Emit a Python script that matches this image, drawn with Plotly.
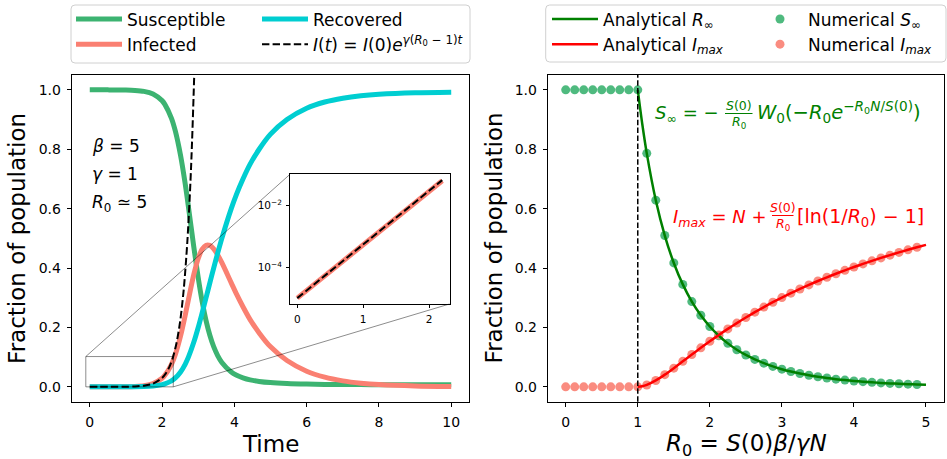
import plotly.graph_objects as go

W, H = 947, 459
FONT = "DejaVu Sans"


def px(x):
    return x / W


def py(y):
    return 1 - y / H


# ---------------- data ----------------
time = [0.0, 0.5, 1.0, 1.25, 1.5, 1.75, 2.0, 2.077, 2.258, 2.368, 2.512, 2.635, 2.729, 2.877,
        3.0, 3.111, 3.217, 3.322, 3.428, 3.538, 3.654, 3.914, 4.064, 4.238, 4.436, 4.686, 4.995,
        5.456, 6.0, 6.5, 7.0, 7.5, 8.0, 9.0, 10.0]
susceptible = [0.99999, 0.99992, 0.99932, 0.99815, 0.99496, 0.9863, 0.9637, 0.9512, 0.9048, 0.8607,
               0.7788, 0.6873, 0.6065, 0.4724, 0.3679, 0.2865, 0.2231, 0.1738, 0.1353, 0.1054, 0.0821,
               0.0498, 0.0388, 0.0302, 0.0235, 0.0183, 0.0143, 0.0111, 0.0092, 0.0083, 0.0078, 0.0075,
               0.0073, 0.0071, 0.0070]
infected = [0.00001, 0.00007, 0.00055, 0.00148, 0.00403, 0.01094, 0.0289, 0.0388, 0.0752, 0.1093,
            0.1712, 0.2377, 0.2935, 0.3776, 0.4321, 0.4635, 0.4769, 0.4762, 0.4647, 0.4446, 0.4179,
            0.3502, 0.3112, 0.2698, 0.2265, 0.1817, 0.1357, 0.0889, 0.0528, 0.0327, 0.0202, 0.0125,
            0.0077, 0.0029, 0.0011]
recovered = [0.0, 0.00002, 0.00013, 0.00037, 0.00101, 0.00276, 0.0074, 0.0100, 0.0200, 0.0300,
             0.0500, 0.0750, 0.1000, 0.1500, 0.2000, 0.2500, 0.3000, 0.3500, 0.4000, 0.4500, 0.5000,
             0.6000, 0.6500, 0.7000, 0.7500, 0.8000, 0.8500, 0.9000, 0.9380, 0.9590, 0.9720, 0.9801,
             0.9850, 0.9900, 0.9919]

time_exp = [0.0, 0.25, 0.5, 0.75, 1.0, 1.25, 1.5, 1.75, 2.0, 2.1, 2.2, 2.3, 2.4, 2.5, 2.6, 2.7,
            2.8, 2.9, 3.0]
infected_exp = [1.0e-5, 2.718e-5, 7.389e-5, 2.009e-4, 5.460e-4, 1.484e-3, 4.034e-3, 1.097e-2,
                2.981e-2, 4.447e-2, 6.634e-2, 9.897e-2, 0.1477, 0.2203, 0.3286, 0.4903, 0.7314,
                1.0913, 1.6275]

time_inset = [0.0, 0.25, 0.5, 0.75, 1.0, 1.25, 1.5, 1.75, 2.0, 2.2]
infected_inset = [1.0e-5, 2.718e-5, 7.389e-5, 2.008e-4, 5.458e-4, 1.482e-3, 4.025e-3, 1.091e-2,
                  2.91e-2, 6.31e-2]
infected_exp_inset = [1.0e-5, 2.718e-5, 7.389e-5, 2.009e-4, 5.460e-4, 1.484e-3, 4.034e-3,
                      1.097e-2, 2.981e-2, 6.634e-2]

r0_numerical = [0.0, 0.125, 0.25, 0.375, 0.5, 0.625, 0.75, 0.875, 1.0, 1.125, 1.25, 1.375, 1.5,
                1.625, 1.75, 1.875, 2.0, 2.125, 2.25, 2.375, 2.5, 2.625, 2.75, 2.875, 3.0, 3.125,
                3.25, 3.375, 3.5, 3.625, 3.75, 3.875, 4.0, 4.125, 4.25, 4.375, 4.5, 4.625, 4.75,
                4.875]
s_inf_numerical = [1.0, 1.0, 1.0, 1.0, 1.0, 1.0, 1.0, 1.0, 1.0, 0.7862, 0.6286, 0.5095, 0.4172,
                   0.3450, 0.2871, 0.2410, 0.2032, 0.1721, 0.1464, 0.1251, 0.1074, 0.0924, 0.0797,
                   0.0688, 0.0595, 0.0516, 0.0448, 0.0390, 0.0340, 0.0297, 0.0259, 0.0227, 0.0198,
                   0.0174, 0.0152, 0.0133, 0.0117, 0.0103, 0.0090, 0.0079]
i_max_numerical = [0.0, 0.0, 0.0, 0.0, 0.0, 0.0, 0.0, 0.0, 0.0, 0.0064, 0.0215, 0.0411, 0.0630,
                   0.0858, 0.1088, 0.1314, 0.1534, 0.1747, 0.1951, 0.2147, 0.2335, 0.2514, 0.2685,
                   0.2849, 0.3005, 0.3154, 0.3296, 0.3433, 0.3564, 0.3689, 0.3809, 0.3924, 0.4034,
                   0.4140, 0.4243, 0.4341, 0.4435, 0.4527, 0.4614, 0.4699]

r0_analytical = [1.0, 1.0625, 1.125, 1.25, 1.375, 1.5, 1.625, 1.75, 1.875, 2.0, 2.125, 2.25, 2.375,
                 2.5, 2.625, 2.75, 2.875, 3.0, 3.125, 3.25, 3.375, 3.5, 3.625, 3.75, 3.875, 4.0,
                 4.125, 4.25, 4.375, 4.5, 4.625, 4.75, 4.875, 5.0]
s_inf_analytical = [1.0, 0.885, 0.7862, 0.6286, 0.5095, 0.4172, 0.3450, 0.2871, 0.2410, 0.2032,
                    0.1721, 0.1464, 0.1251, 0.1074, 0.0924, 0.0797, 0.0688, 0.0595, 0.0516, 0.0448,
                    0.0390, 0.0340, 0.0297, 0.0259, 0.0227, 0.0198, 0.0174, 0.0152, 0.0133, 0.0117,
                    0.0103, 0.0090, 0.0079, 0.0070]
i_max_analytical = [0.0, 0.0018, 0.0064, 0.0215, 0.0411, 0.0630, 0.0858, 0.1088, 0.1314, 0.1534,
                    0.1747, 0.1951, 0.2147, 0.2335, 0.2514, 0.2685, 0.2849, 0.3005, 0.3154, 0.3296,
                    0.3433, 0.3564, 0.3689, 0.3809, 0.3924, 0.4034, 0.4140, 0.4243, 0.4341, 0.4435,
                    0.4527, 0.4614, 0.4699, 0.4781]

left_ticks = [0, 2, 4, 6, 8, 10]
right_ticks = [0, 1, 2, 3, 4, 5]
y_ticks = [0.0, 0.2, 0.4, 0.6, 0.8, 1.0]
inset_xticks = [0, 1, 2]
inset_yticks = [1e-4, 1e-2]
inset_yticklabels = ["10<sup>−4</sup>", "10<sup>−2</sup>"]

# ---------------- styling ----------------
C_S = "#3CB371"
C_I = "#FA8072"
C_R = "#00CED1"
C_GREEN = "#008000"
C_RED = "#FF0000"

L_DOM = (71.7, 469.3)
R_DOM = (547.7, 944.0)
Y_DOM = (75.0, 401.7)
IN_X = (290.0, 449.5)
IN_Y = (174.3, 304.0)
L_XR = (-0.5, 10.5)
R_XR = (-0.25, 5.25)
YR = (-0.05, 1.05)

fig = go.Figure()

sp = dict(shape="spline", smoothing=0.8)
fig.add_trace(go.Scatter(x=time, y=susceptible, mode="lines", name="Susceptible",
                         line=dict(color=C_S, width=5, **sp), legend="legend"))
fig.add_trace(go.Scatter(x=time, y=infected, mode="lines", name="Infected",
                         line=dict(color=C_I, width=5, **sp), legend="legend"))
fig.add_trace(go.Scatter(x=time, y=recovered, mode="lines", name="Recovered",
                         line=dict(color=C_R, width=5, **sp), legend="legend2"))
fig.add_trace(go.Scatter(x=time_exp, y=infected_exp, mode="lines",
                         name="<i>I</i>(<i>t</i>) = <i>I</i>(0)<i>e</i><sup><i>γ</i>(<i>R</i><sub>0</sub> − 1)<i>t</i></sup>",
                         line=dict(color="black", width=2, dash="7.4px,3.2px", **sp), legend="legend2"))

# inset
fig.add_trace(go.Scatter(x=time_inset, y=infected_inset, mode="lines", showlegend=False,
                         line=dict(color=C_I, width=5), xaxis="x3", yaxis="y3"))
fig.add_trace(go.Scatter(x=time_inset, y=infected_exp_inset, mode="lines", showlegend=False,
                         line=dict(color="black", width=2, dash="7.4px,3.2px"), xaxis="x3", yaxis="y3"))

# right panel
fig.add_trace(go.Scatter(x=r0_numerical, y=s_inf_numerical, mode="markers", name="Numerical <i>S</i><sub>∞</sub>",
                         marker=dict(color=C_S, size=9, opacity=0.9, line=dict(width=0)),
                         xaxis="x2", yaxis="y2", legend="legend4"))
fig.add_trace(go.Scatter(x=r0_numerical, y=i_max_numerical, mode="markers", name="Numerical <i>I</i><sub><i>max</i></sub>",
                         marker=dict(color=C_I, size=9, opacity=0.9, line=dict(width=0)),
                         xaxis="x2", yaxis="y2", legend="legend4"))
fig.add_trace(go.Scatter(x=r0_analytical, y=s_inf_analytical, mode="lines", name="Analytical <i>R</i><sub>∞</sub>",
                         line=dict(color=C_GREEN, width=2.5, **sp), xaxis="x2", yaxis="y2", legend="legend3"))
fig.add_trace(go.Scatter(x=r0_analytical, y=i_max_analytical, mode="lines", name="Analytical <i>I</i><sub><i>max</i></sub>",
                         line=dict(color=C_RED, width=2.5, **sp), xaxis="x2", yaxis="y2", legend="legend3"))

tickfont = dict(family=FONT, size=14, color="black")
axis_common = dict(showline=True, mirror=True, linecolor="black", linewidth=1, ticks="outside",
                   ticklen=4, tickwidth=1, tickcolor="black", showgrid=False, zeroline=False,
                   tickfont=tickfont, ticklabelstandoff=3)
inset_common = {**axis_common, "tickfont": dict(family=FONT, size=10.5, color="black"),
                "ticklen": 3, "ticklabelstandoff": 2}

fig.update_layout(
    width=W, height=H, autosize=False,
    margin=dict(l=0, r=0, t=0, b=0),
    paper_bgcolor="white", plot_bgcolor="white",
    font=dict(family=FONT, size=14, color="black"),
    xaxis=dict(domain=[px(L_DOM[0]), px(L_DOM[1])], range=list(L_XR), tickvals=left_ticks,
               anchor="y", **axis_common),
    yaxis=dict(domain=[py(Y_DOM[1]), py(Y_DOM[0])], range=list(YR), tickvals=y_ticks,
               tickformat=".1f", anchor="x", **axis_common),
    xaxis2=dict(domain=[px(R_DOM[0]), px(R_DOM[1])], range=list(R_XR), tickvals=right_ticks,
                anchor="y2", **axis_common),
    yaxis2=dict(domain=[py(Y_DOM[1]), py(Y_DOM[0])], range=list(YR), tickvals=y_ticks,
                tickformat=".1f", anchor="x2", **axis_common),
    xaxis3=dict(domain=[px(IN_X[0]), px(IN_X[1])], range=[-0.11, 2.31], tickvals=inset_xticks,
                anchor="y3", **inset_common),
    yaxis3=dict(domain=[py(IN_Y[1]), py(IN_Y[0])], type="log", range=[-5.19, -0.99],
                tickvals=inset_yticks, ticktext=inset_yticklabels, anchor="x3", **inset_common),
)

leg_common = dict(orientation="v", xanchor="left", yanchor="top", bgcolor="rgba(0,0,0,0)",
                  borderwidth=0, font=dict(family=FONT, size=17, color="black"), itemwidth=46,
                  tracegroupgap=0)
fig.update_layout(
    legend=dict(x=px(71), y=py(1.5), **leg_common),
    legend2=dict(x=px(257), y=py(1.5), **leg_common),
    legend3=dict(x=px(547), y=py(1.5), **leg_common),
    legend4=dict(x=px(752), y=py(1.5), **leg_common),
)


def rounded_box(x0, y0, x1, y1, r=4):
    X0, X1 = px(x0), px(x1)
    Y0, Y1 = py(y0), py(y1)
    rx, ry = r / W, r / H
    return (f"M{X0 + rx},{Y0} L{X1 - rx},{Y0} Q{X1},{Y0} {X1},{Y0 - ry} "
            f"L{X1},{Y1 + ry} Q{X1},{Y1} {X1 - rx},{Y1} L{X0 + rx},{Y1} Q{X0},{Y1} {X0},{Y1 + ry} "
            f"L{X0},{Y0 - ry} Q{X0},{Y0} {X0 + rx},{Y0} Z")


shapes = []
shapes.append(dict(type="path", path=rounded_box(71, 5, 470, 63), xref="paper", yref="paper",
                   line=dict(color="#d0d0d0", width=1), fillcolor="rgba(255,255,255,0.8)", layer="below"))
shapes.append(dict(type="path", path=rounded_box(545.7, 5, 946, 62), xref="paper", yref="paper",
                   line=dict(color="#d0d0d0", width=1), fillcolor="rgba(255,255,255,0.8)", layer="below"))


# inset indicator rectangle + connectors
def x_to_px(v):
    return L_DOM[0] + (v - L_XR[0]) / (L_XR[1] - L_XR[0]) * (L_DOM[1] - L_DOM[0])


def y_to_px(v):
    return Y_DOM[1] - (v - YR[0]) / (YR[1] - YR[0]) * (Y_DOM[1] - Y_DOM[0])


rect_x = (-0.11, 2.31)
rect_y = (0.0, 0.102)
gray = "rgba(0,0,0,0.45)"
shapes.append(dict(type="rect", xref="x", yref="y", x0=rect_x[0], x1=rect_x[1], y0=rect_y[0],
                   y1=rect_y[1], line=dict(color=gray, width=1), layer="above"))
shapes.append(dict(type="line", xref="paper", yref="paper",
                   x0=px(x_to_px(rect_x[0])), y0=py(y_to_px(rect_y[1])),
                   x1=px(IN_X[0]), y1=py(IN_Y[0]), line=dict(color=gray, width=1)))
shapes.append(dict(type="line", xref="paper", yref="paper",
                   x0=px(x_to_px(rect_x[1])), y0=py(y_to_px(rect_y[0])),
                   x1=px(IN_X[1]), y1=py(IN_Y[1]), line=dict(color=gray, width=1)))

# R0 = 1 dashed vertical line
shapes.append(dict(type="line", xref="x2", yref="y2 domain", x0=1, x1=1, y0=0, y1=1,
                   line=dict(color="black", width=1.5, dash="5.5px,2.4px"), layer="above"))

# fraction bars
shapes.append(dict(type="line", xref="paper", yref="paper", x0=px(725), x1=px(752.5),
                   y0=py(113.5), y1=py(113.5), line=dict(color=C_GREEN, width=1)))
shapes.append(dict(type="line", xref="paper", yref="paper", x0=px(772), x1=px(793.5),
                   y0=py(215.5), y1=py(215.5), line=dict(color=C_RED, width=1)))
fig.update_layout(shapes=shapes)


def ann(text, x, y, size, color="black", xanchor="left", yanchor="middle", angle=0):
    return dict(text=text, x=px(x), y=py(y), xref="paper", yref="paper", showarrow=False,
                xanchor=xanchor, yanchor=yanchor, textangle=angle,
                font=dict(family=FONT, size=size, color=color))


annotations = [
    ann("Fraction of population", 17.5, 238.4, 23, angle=-90, xanchor="center"),
    ann("Fraction of population", 494, 238.4, 23, angle=-90, xanchor="center"),
    ann("Time", 270.5, 444, 23, xanchor="center"),
    ann("<i>R</i><sub>0</sub> = <i>S</i>(0)<i>β</i>/<i>γN</i>", 746, 445, 23, xanchor="center"),
    ann("<i>β</i> = 5", 90, 145.7, 17),
    ann("<i>γ</i> = 1", 90, 174, 17),
    ann("<i>R</i><sub>0</sub> ≃ 5", 90, 203.3, 17),
    # green formula
    ann("<i>S</i><sub>∞</sub> = −", 721, 114, 18, C_GREEN, xanchor="right"),
    ann("<i>S</i>(0)", 738.7, 105.5, 12.5, C_GREEN, xanchor="center"),
    ann("<i>R</i><sub>0</sub>", 738.7, 123, 12.5, C_GREEN, xanchor="center"),
    ann("<i>W</i><sub>0</sub>(−<i>R</i><sub>0</sub><i>e</i><sup>−<i>R</i><sub>0</sub><i>N</i>/<i>S</i>(0)</sup>)",
        755, 112, 19.5, C_GREEN),
    # red formula
    ann("<i>I</i><sub><i>max</i></sub> = <i>N</i> +", 769, 217.5, 18, C_RED, xanchor="right"),
    ann("<i>S</i>(0)", 782.8, 207.5, 12.5, C_RED, xanchor="center"),
    ann("<i>R</i><sub>0</sub>", 782.8, 224.5, 12.5, C_RED, xanchor="center"),
    ann("[ln(1/<i>R</i><sub>0</sub>) − 1]", 795, 217.5, 19, C_RED),
]
fig.update_layout(annotations=annotations)

fig.write_html("out.html")
